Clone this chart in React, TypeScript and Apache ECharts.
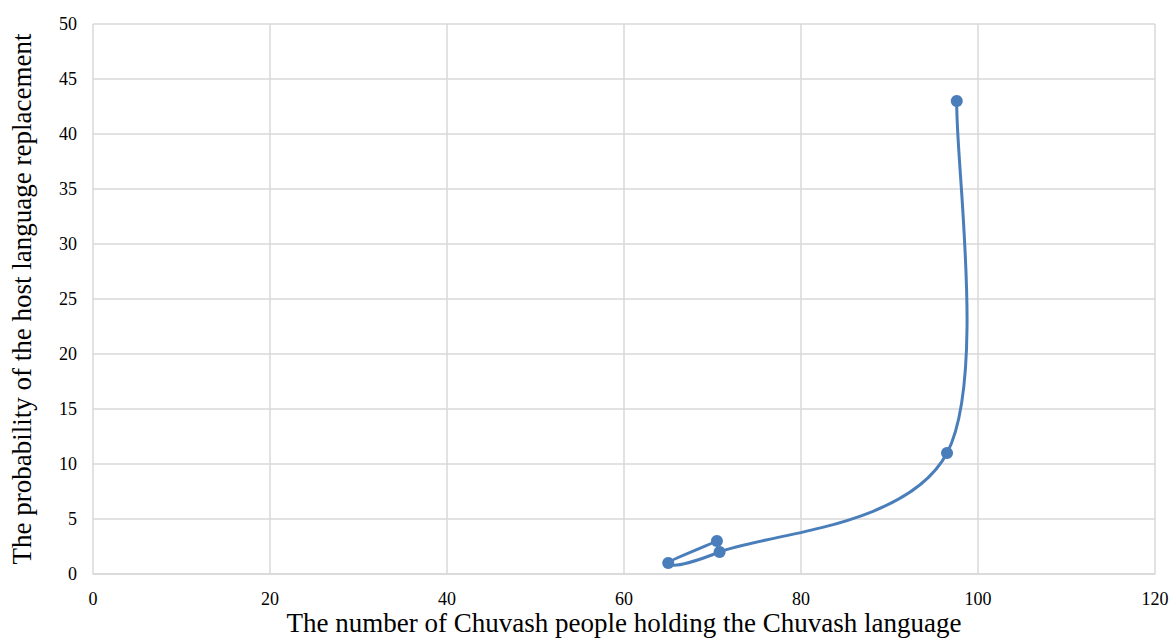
import React, { useEffect, useRef } from "react";
import * as echarts from "echarts";

const xValues = [70.5, 65, 70.8, 96.5, 97.6];
const yValues = [3, 1, 2, 11, 43];
const xTitle = "The number of Chuvash people holding the Chuvash language";
const yTitle = "The probability of the host language replacement";

const LINE_COLOR = "#4a7ebb";

export default function App() {
  const ref = useRef<HTMLDivElement>(null);
  useEffect(() => {
    const chart = echarts.init(ref.current!, null, { renderer: "svg" });
    const font = "'Liberation Serif', 'Times New Roman', serif";
    const points = xValues.map((x, i) => [x, yValues[i]]);
    chart.setOption({
      animation: false,
      backgroundColor: "#ffffff",
      grid: { left: 93, right: 17, top: 24, bottom: 65, outerBoundsMode: "none" },
      graphic: [
        {
          type: "text",
          x: 624,
          y: 636,
          style: {
            text: xTitle,
            fontFamily: font,
            fontSize: 27,
            fill: "#000",
            textAlign: "center",
            textVerticalAlign: "bottom",
          },
        },
      ],
      xAxis: {
        type: "value",
        min: 0,
        max: 120,
        interval: 20,
        axisLine: { show: true, lineStyle: { color: "#d9d9d9", width: 1.5 } },
        axisTick: { show: false },
        axisLabel: { fontFamily: font, fontSize: 18, color: "#000", margin: 16 },
        splitLine: { show: true, lineStyle: { color: "#d9d9d9", width: 1.5 } },
      },
      yAxis: {
        type: "value",
        min: 0,
        max: 50,
        interval: 5,
        name: yTitle,
        nameLocation: "middle",
        nameGap: 58,
        nameTextStyle: { fontFamily: font, fontSize: 27, color: "#000" },
        axisLine: { show: false },
        axisTick: { show: false },
        axisLabel: { fontFamily: font, fontSize: 18, color: "#000", margin: 16 },
        splitLine: { show: true, lineStyle: { color: "#d9d9d9", width: 1.5 } },
      },
      series: [
        {
          type: "custom",
          data: points,
          z: 2,
          renderItem: (params: any, api: any) => {
            if (params.dataIndex !== 0) return null;
            const P = points.map((p) => api.coord(p));
            const n = P.length;
            let d = `M${P[0][0]},${P[0][1]}`;
            for (let i = 0; i < n - 1; i++) {
              const p0 = P[i - 1] || P[i];
              const p1 = P[i];
              const p2 = P[i + 1];
              const p3 = P[i + 2] || P[i + 1];
              const c1x = p1[0] + (p2[0] - p0[0]) / 6;
              const c1y = p1[1] + (p2[1] - p0[1]) / 6;
              const c2x = p2[0] - (p3[0] - p1[0]) / 6;
              const c2y = p2[1] - (p3[1] - p1[1]) / 6;
              d += ` C${c1x},${c1y} ${c2x},${c2y} ${p2[0]},${p2[1]}`;
            }
            return {
              type: "path",
              shape: { pathData: d },
              style: { stroke: LINE_COLOR, fill: "none", lineWidth: 3 },
            };
          },
        },
        {
          type: "scatter",
          data: points,
          z: 3,
          symbol: "circle",
          symbolSize: 12,
          itemStyle: { color: LINE_COLOR, opacity: 1 },
        },
      ],
    });
    return () => chart.dispose();
  }, []);
  return <div ref={ref} style={{ width: 1172, height: 639, position: "absolute", left: 0, top: 0 }} />;
}
